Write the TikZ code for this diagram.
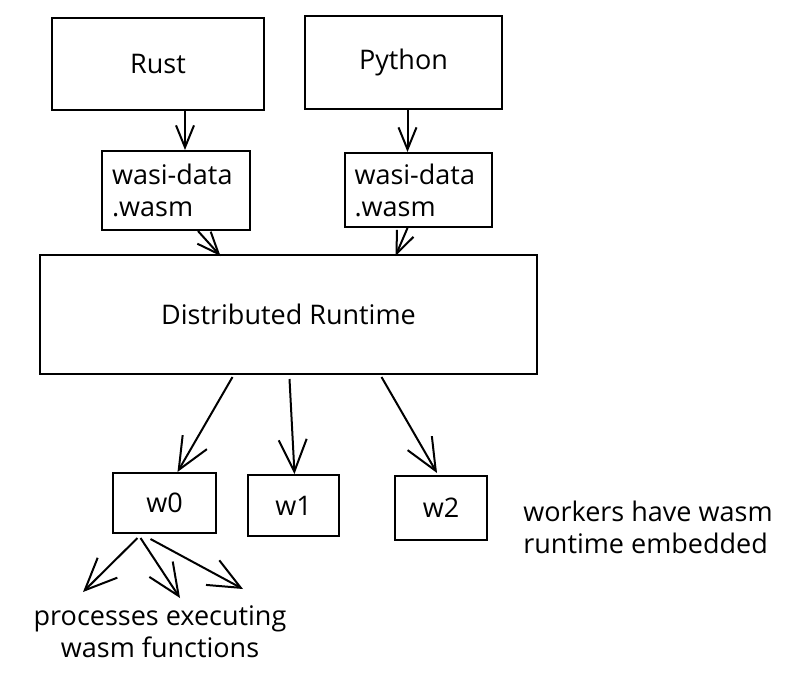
\documentclass[tikz,border=0pt]{standalone}
\usepackage{fontspec}
\setmainfont{Open Sans}
\usetikzlibrary{arrows.meta,calc,positioning}
\tikzset{
  box/.style={draw,line width=1pt,inner sep=0pt},
  smallarr/.style={-{Straight Barb[length=11pt,width=9pt,line width=1pt]},line width=1pt},
  bigarr/.style={-{Straight Barb[length=16pt,width=14pt,line width=1pt]},line width=1pt},
  note/.style={align=left,inner sep=0pt}
}
\begin{document}
\begin{tikzpicture}[x=0.5pt,y=-0.5pt,font=\fontsize{13.5pt}{16pt}\selectfont]
\useasboundingbox (0,0) rectangle (786,676);
\node[box,minimum width=106pt,minimum height=46pt] (rust) at (158,64) {Rust};
\node[box,minimum width=98.5pt,minimum height=46.5pt] (python) at (403.5,62) {Python};
\node[box,minimum width=74pt,minimum height=39.5pt,text width=64pt,align=left] (wasiA) at (176,190.5) {wasi-data\\.wasm};
\node[box,minimum width=73.5pt,minimum height=37pt,text width=64pt,align=left] (wasiB) at (418.5,190) {wasi-data\\.wasm};
\node[box,minimum width=248.5pt,minimum height=59.5pt] (runtime) at (288.5,314.5) {Distributed Runtime};
\node[box,minimum width=51.5pt,minimum height=30pt] (w0) at (164.5,503) {w0};
\node[box,minimum width=45.5pt,minimum height=30.5pt] (w1) at (293.5,505.5) {w1};
\node[box,minimum width=46pt,minimum height=32pt] (w2) at (441,508) {w2};
\node[note] (workers) at (648,527) {workers have wasm\\runtime embedded};
\node[note,align=center] (procs) at (160,632) {processes executing\\wasm functions};
\coordinate (pa) at (83,592);
\coordinate (pb) at (180,598);
\coordinate (pc) at (243,589);
\draw[smallarr] ($(rust.south)+(27,0)$) -- ($(wasiA.north)+(9,0)$);
\draw[smallarr] ($(python.south)+(4,0)$) -- ($(python.south |- wasiB.north)+(4,0)$);
\draw[smallarr] ($(wasiA.south)+(22,0)$) -- ($(runtime.north)+(-68,2)$);
\draw[smallarr] ($(wasiB.south)+(-11,0)$) -- ($(runtime.north)+(107,2)$);
\draw[bigarr] ($(runtime.south)+(-56,2)$) -- ($(w0.north)+(13,0)$);
\draw[bigarr] ($(runtime.south)+(1,4)$) -- ($(w1.north)+(1,0)$);
\draw[bigarr] ($(runtime.south)+(93,2)$) -- ($(w2.north)+(-4,-2)$);
\draw[bigarr] ($(w0.south)+(-27,4)$) -- (pa);
\draw[bigarr] ($(w0.south)+(-24,4)$) -- (pb);
\draw[bigarr] ($(w0.south)+(-14,5)$) -- (pc);
\end{tikzpicture}
\end{document}
